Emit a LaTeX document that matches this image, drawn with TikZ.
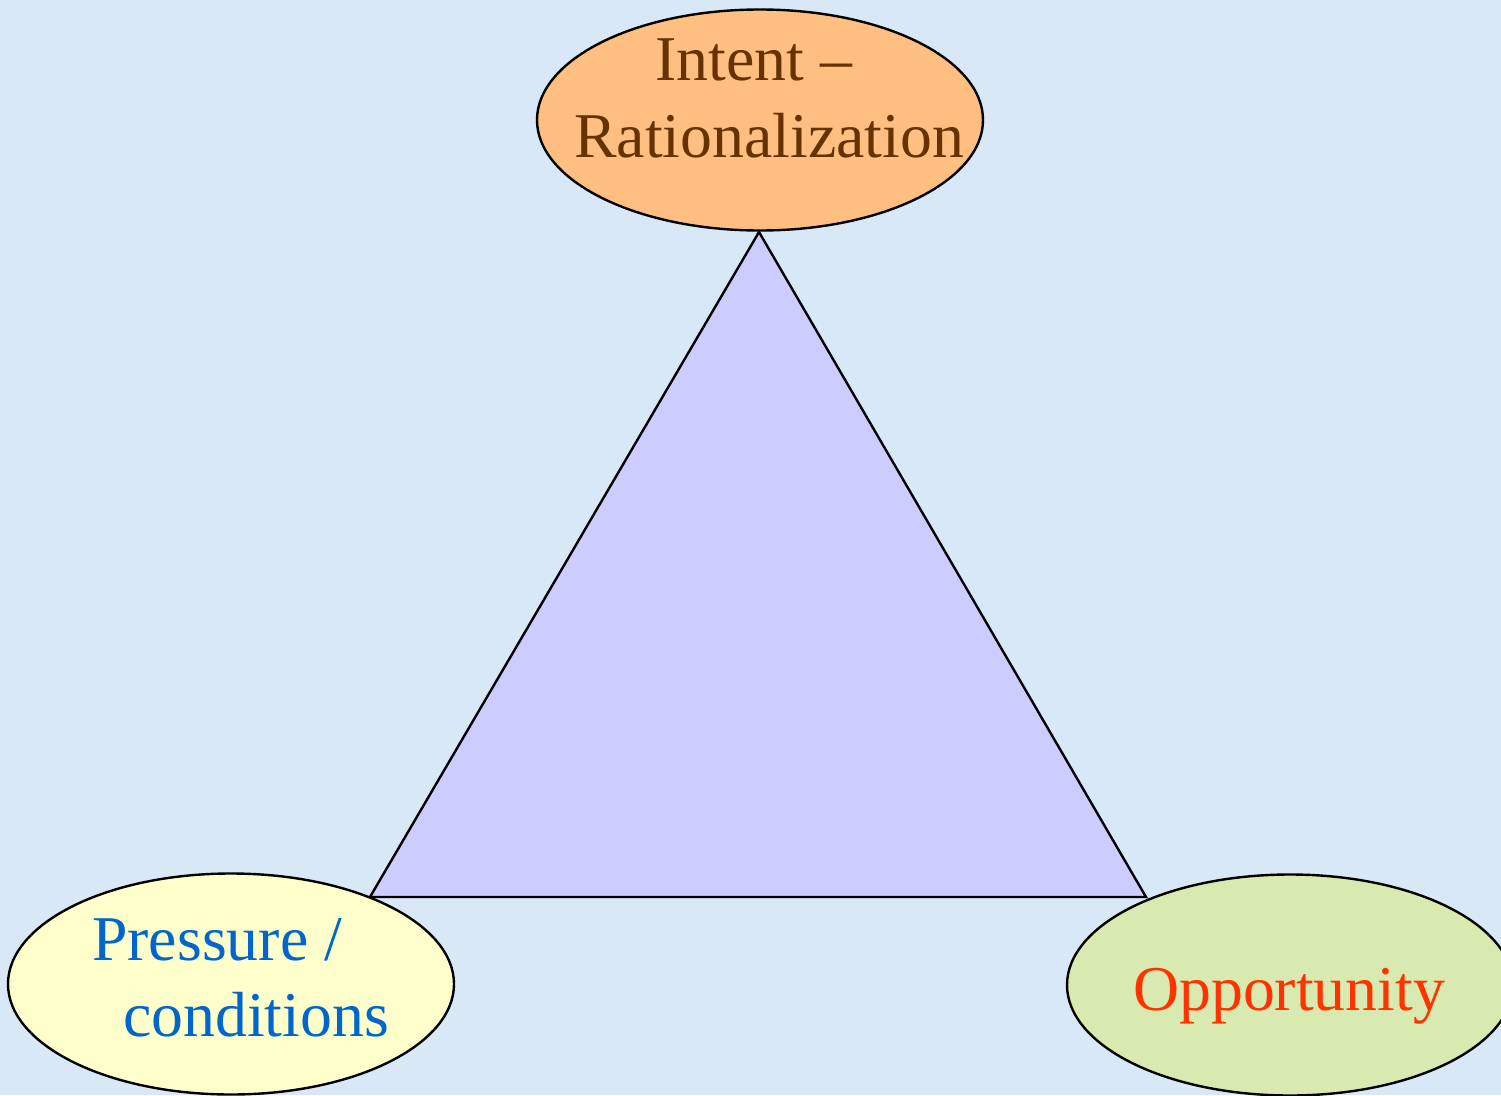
\documentclass[tikz,border=0pt]{standalone}
\usepackage{fontspec}
\setmainfont{Liberation Serif}
\usetikzlibrary{shapes.geometric}
\definecolor{bgblue}{HTML}{D9E8F7}
\definecolor{trifill}{HTML}{CCCCFF}
\definecolor{topfill}{HTML}{FFBF80}
\definecolor{leftfill}{HTML}{FFFFCC}
\definecolor{rightfill}{HTML}{D9EAB0}
\definecolor{toptext}{HTML}{663300}
\definecolor{lefttext}{HTML}{0066CC}
\definecolor{righttext}{HTML}{FF3300}
\tikzset{
  oval/.style={ellipse, draw=black, line width=2.4pt, minimum width=446pt, minimum height=221pt, inner sep=0pt},
  lbl/.style={anchor=base west, inner sep=0pt, font=\fontsize{63.8}{76}\selectfont}
}
\begin{document}
\begin{tikzpicture}[x=1pt,y=-1pt]
\useasboundingbox (0,0) rectangle (1501,1095);
\fill[bgblue] (0,0) rectangle (1501,1095);
\begin{scope}
\clip (0,0) rectangle (1501,1095);
\coordinate (apex) at (759,232);
\coordinate (bl) at (370,897);
\coordinate (br) at (1146,897);
\filldraw[fill=trifill, draw=black, line width=2.4pt, line join=miter] (apex) -- (bl) -- (br) -- cycle;
\node[oval, fill=topfill] (top) at (760,120) {};
\node[oval, fill=leftfill] (left) at (231,984) {};
\node[oval, fill=rightfill] (right) at (1290,985) {};
\node[lbl, text=toptext] (t1) at (655,80) {Intent –};
\node[lbl, text=toptext] (t2) at (574,157) {Rationalization};
\node[lbl, text=lefttext] (l1) at (92,960) {Pressure /};
\node[lbl, text=lefttext] (l2) at (123,1036) {conditions};
\node[lbl, text=righttext] (r1) at (1133,1010) {Opportunity};
\end{scope}
\end{tikzpicture}
\end{document}
